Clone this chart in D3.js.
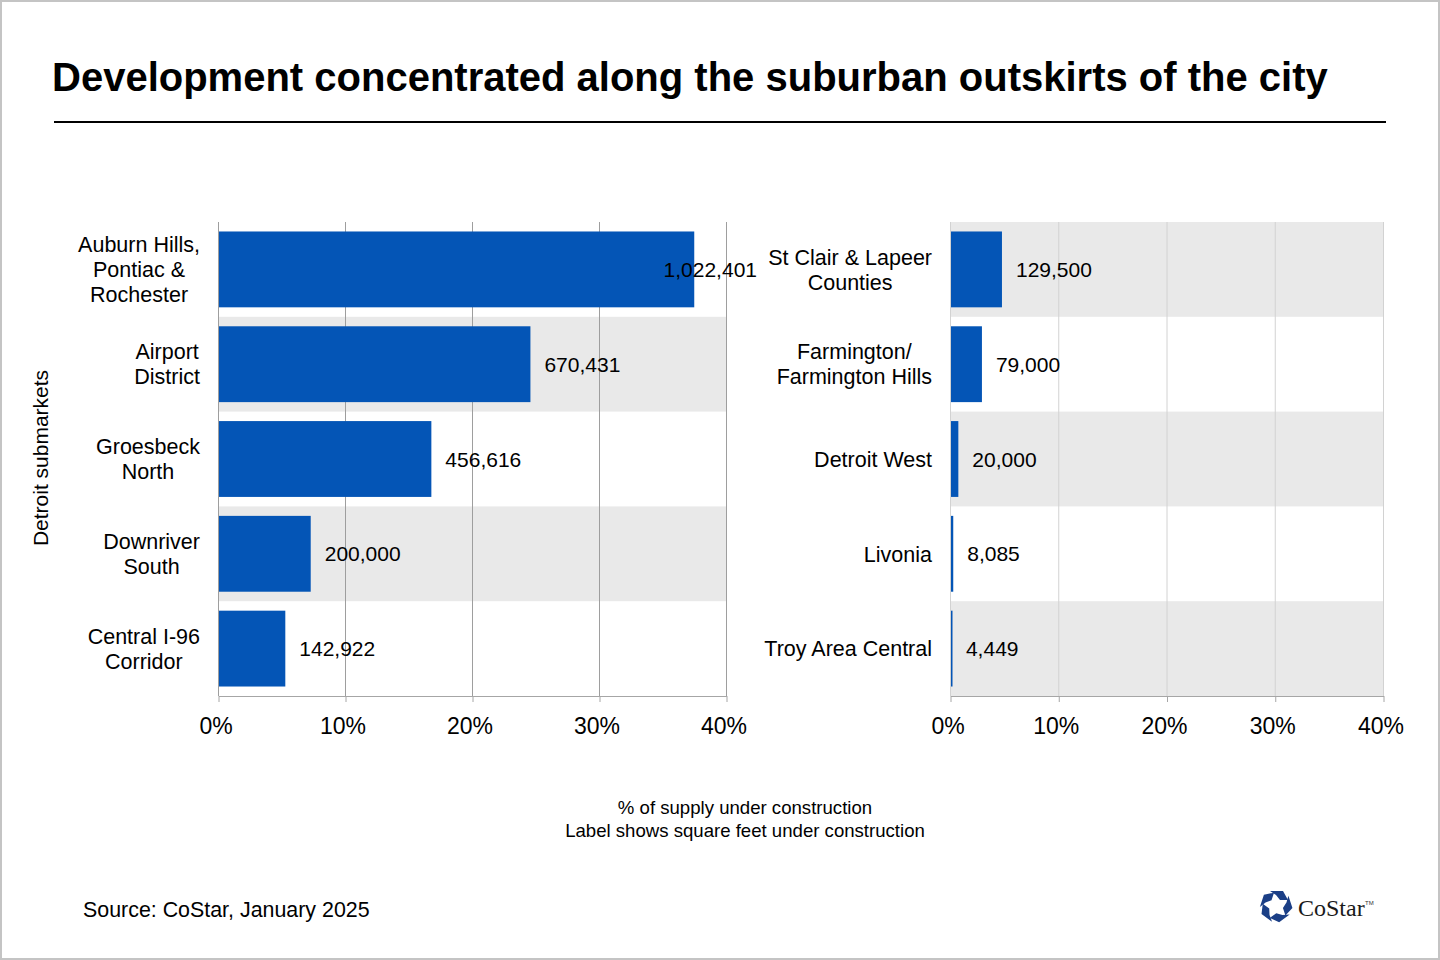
<!DOCTYPE html>
<html>
<head>
<meta charset="utf-8">
<script src="https://cdn.jsdelivr.net/npm/d3@7"></script>
<style>
  html, body { margin: 0; padding: 0; background: #fff; }
  svg { display: block; font-family: "Liberation Sans", Arial, sans-serif; }
</style>
</head>
<body>
<svg id="chart" width="1440" height="960"></svg>
<script>
// ---- Data ----
const leftCategories = [
  ["Auburn Hills,", "Pontiac &", "Rochester"],
  ["Airport", "District"],
  ["Groesbeck", "North"],
  ["Downriver", "South"],
  ["Central I-96", "Corridor"]
];
const leftPercent = [37.5, 24.6, 16.8, 7.3, 5.3];
const leftSqft = ["1,022,401", "670,431", "456,616", "200,000", "142,922"];

const rightCategories = [
  ["St Clair & Lapeer", "Counties"],
  ["Farmington/", "Farmington Hills"],
  ["Detroit West"],
  ["Livonia"],
  ["Troy Area Central"]
];
const rightPercent = [4.8, 2.95, 0.77, 0.3, 0.18];
const rightSqft = ["129,500", "79,000", "20,000", "8,085", "4,449"];

const xTicks = [0, 10, 20, 30, 40];
const titleText = "Development concentrated along the suburban outskirts of the city";
const xTitleLines = ["% of supply under construction", "Label shows square feet under construction"];
const yTitle = "Detroit submarkets";
const sourceText = "Source: CoStar, January 2025";

// ---- Drawing ----
const svg = d3.select("#chart");
const W = 1440, H = 960;
const BAR = "#0455b6";
const BAND = "#e9e9e9";

svg.append("rect").attr("x", 1).attr("y", 1).attr("width", W - 2).attr("height", H - 2)
  .attr("fill", "#fff").attr("stroke", "#c4c4c4").attr("stroke-width", 2);

svg.append("text").attr("x", 52).attr("y", 91)
  .attr("font-size", 40).attr("font-weight", "bold").attr("fill", "#000")
  .text(titleText);

svg.append("line").attr("x1", 54).attr("x2", 1386).attr("y1", 122).attr("y2", 122)
  .attr("stroke", "#000").attr("stroke-width", 2);

const plotTop = 222, plotBottom = 696;

function panel(cfg) {
  const { cats, pct, labels, x0, x1, gridColor, shadeOffset, labelMaxRight } = cfg;
  const idx = d3.range(cats.length);
  const x = d3.scaleLinear().domain([0, 40]).range([x0, x1]);
  const y = d3.scaleBand().domain(idx).range([plotTop, plotBottom])
    .paddingInner(0.2).paddingOuter(0.1);
  const step = y.step();
  const g = svg.append("g");

  g.selectAll("rect.band").data(idx.filter(i => (i + shadeOffset) % 2 === 1)).join("rect")
    .attr("class", "band")
    .attr("x", x0).attr("width", x1 - x0)
    .attr("y", i => y(i) - y.paddingInner() * step / 2)
    .attr("height", step)
    .attr("fill", BAND);

  g.selectAll("line.grid").data(xTicks).join("line")
    .attr("class", "grid")
    .attr("x1", d => x(d) + 0.5).attr("x2", d => x(d) + 0.5)
    .attr("y1", plotTop).attr("y2", plotBottom)
    .attr("stroke", gridColor).attr("stroke-width", 1);

  const axis = d3.axisBottom(x).tickValues(xTicks).tickFormat(d => d + "%")
    .tickSize(6).tickSizeOuter(0).tickPadding(12);
  const ag = g.append("g").attr("transform", `translate(0.5,${plotBottom})`).call(axis);
  ag.select(".domain").attr("stroke", "#a6a6a6").attr("stroke-width", 1);
  ag.selectAll(".tick line").attr("stroke", "#a6a6a6");
  ag.selectAll(".tick text").attr("font-size", 23).attr("fill", "#000")
    .attr("font-family", "Liberation Sans, Arial, sans-serif").attr("dy", "0.85em")
    .attr("x", -3);

  g.selectAll("rect.bar").data(idx).join("rect")
    .attr("class", "bar")
    .attr("x", x(0) + 1).attr("y", i => y(i))
    .attr("width", i => Math.max(1.5, x(pct[i]) - x(0) - 1))
    .attr("height", y.bandwidth())
    .attr("fill", BAR);

  const vl = g.selectAll("text.val").data(idx).join("text")
    .attr("class", "val")
    .attr("y", i => y(i) + y.bandwidth() / 2)
    .attr("dy", "0.36em")
    .attr("font-size", 21).attr("fill", "#000")
    .text(i => labels[i]);
  vl.each(function (i) {
    const w = this.getComputedTextLength();
    let lx = x(pct[i]) + 14;
    if (lx + w > labelMaxRight) lx = labelMaxRight - w;
    d3.select(this).attr("x", lx);
  });

  const lineH = 25;
  idx.forEach(i => {
    const lines = cats[i];
    const t = g.append("text").attr("font-size", 21.5).attr("fill", "#000")
      .attr("text-anchor", "middle");
    const cy = y(i) + y.bandwidth() / 2;
    lines.forEach((ln, k) => {
      t.append("tspan").attr("y", cy + (k - (lines.length - 1) / 2) * lineH).attr("dy", "0.36em").text(ln);
    });
    let maxW = 0;
    t.selectAll("tspan").each(function () { maxW = Math.max(maxW, this.getComputedTextLength()); });
    const cx = x0 - 18 - maxW / 2;
    t.selectAll("tspan").attr("x", cx);
  });
}

panel({ cats: leftCategories, pct: leftPercent, labels: leftSqft,
  x0: 218, x1: 726, gridColor: "#9e9e9e", shadeOffset: 0, labelMaxRight: 757 });
panel({ cats: rightCategories, pct: rightPercent, labels: rightSqft,
  x0: 950, x1: 1383, gridColor: "#d2d2d2", shadeOffset: 1, labelMaxRight: 1430 });

svg.append("text").attr("text-anchor", "middle").attr("font-size", 18.6)
  .selectAll("tspan").data(xTitleLines).join("tspan")
  .attr("x", 745).attr("y", (d, i) => 814 + i * 23).text(d => d);

svg.append("text").attr("transform", "translate(48,458) rotate(-90)")
  .attr("text-anchor", "middle").attr("font-size", 21).text(yTitle);

svg.append("text").attr("x", 83).attr("y", 917).attr("font-size", 21.4).text(sourceText);

// logo
const logo = svg.append("g").attr("transform", "translate(1276,906)");
const segs = d3.range(5);
logo.selectAll("path").data(segs).join("path")
  .attr("d", "M -6 -15 L 7 -15 L 12 -6 L 4 -6 L 0 -11 Z")
  .attr("transform", d => `rotate(${d * 72})`)
  .attr("fill", "#1b3f86");
logo.append("text").attr("x", 22).attr("y", 10)
  .attr("font-family", "Liberation Serif, Times New Roman, serif")
  .attr("font-size", 24).attr("fill", "#1a1a1a").text("CoStar");
logo.append("text").attr("x", 89).attr("y", -1)
  .attr("font-size", 6).attr("fill", "#333").text("TM");
</script>
</body>
</html>
